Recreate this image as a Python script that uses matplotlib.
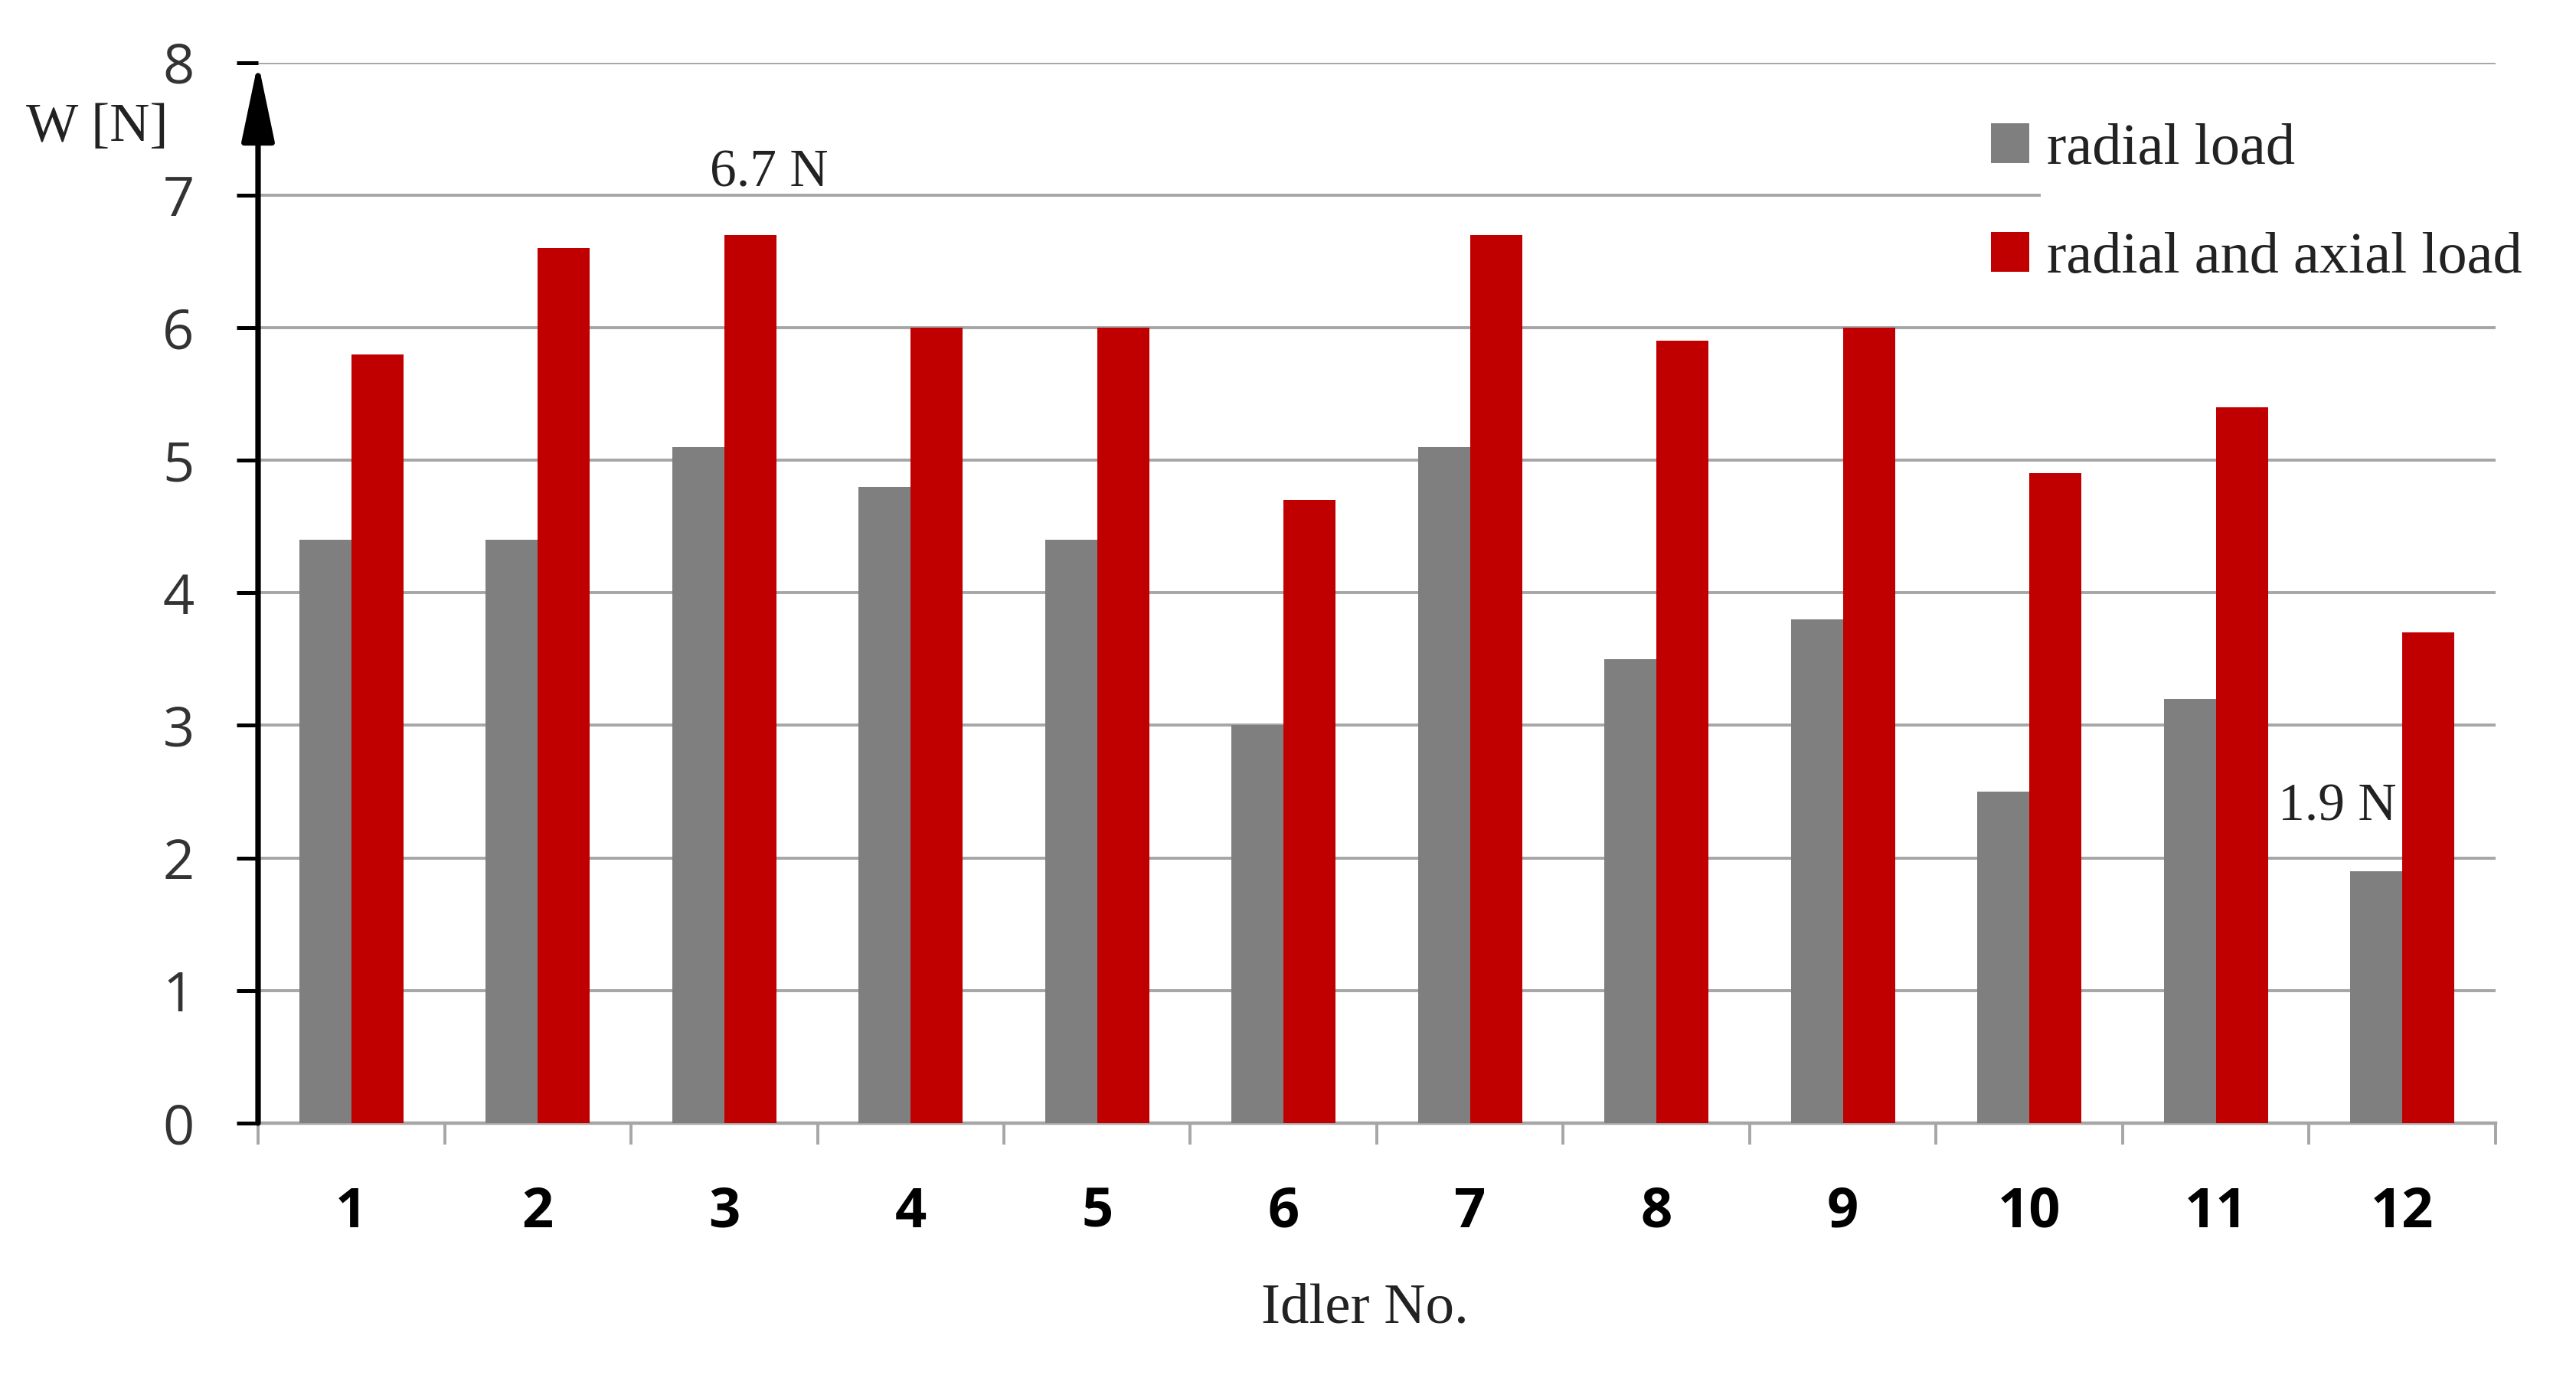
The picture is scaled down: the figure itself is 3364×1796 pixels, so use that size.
import matplotlib
matplotlib.use("Agg")
import matplotlib.pyplot as plt
from matplotlib.patches import Rectangle
import numpy as np

idlers = ["1", "2", "3", "4", "5", "6", "7", "8", "9", "10", "11", "12"]
radial = [4.4, 4.4, 5.1, 4.8, 4.4, 3.0, 5.1, 3.5, 3.8, 2.5, 3.2, 1.9]
radial_axial = [5.8, 6.6, 6.7, 6.0, 6.0, 4.7, 6.7, 5.9, 6.0, 4.9, 5.4, 3.7]
yticks = [0, 1, 2, 3, 4, 5, 6, 7, 8]

W, H, DPI = 3364, 1796, 200
fig = plt.figure(figsize=(W / DPI, H / DPI), dpi=DPI)
ax = fig.add_axes([337 / W, 1 - 1467 / H, (3259 - 337) / W, (1467 - 81.5) / H])

serif = ["Liberation Serif", "DejaVu Serif"]
sans = ["Open Sans", "DejaVu Sans"]

x = np.arange(len(idlers))
bw = 0.28
ax.bar(x - bw / 2, radial, width=bw, color="#7F7F7F", label="radial load", zorder=3)
ax.bar(x + bw / 2, radial_axial, width=bw, color="#C00000", label="radial and axial load", zorder=3)

ax.set_xlim(-0.5, len(idlers) - 0.5)
ax.set_ylim(0, 8)

# grid
ax.set_axisbelow(True)
ax.yaxis.grid(True, color="#A6A6A6", lw=1.4, zorder=0)
# mask gridline behind legend
ax.add_patch(Rectangle(((2665 - 337) / (3259 - 337), 6.6 / 8), 1.0, 0.8 / 8,
                       transform=ax.transAxes, facecolor="white", edgecolor="none",
                       zorder=1, clip_on=False))

# y axis
ax.set_yticks(yticks)
ax.set_yticklabels([str(v) for v in yticks], fontfamily=sans, fontsize=26, color="#333333")
ax.tick_params(axis="y", direction="out", length=10, width=1.8, color="black", pad=20)

# x axis
ax.set_xticks(x)
ax.set_xticklabels(idlers, fontfamily=sans, fontsize=26, fontweight="bold", color="black")
ax.set_xticks(np.arange(-0.5, len(idlers)), minor=True)
ax.tick_params(axis="x", which="major", length=0, pad=29)
ax.tick_params(axis="x", which="minor", length=10, width=1.4, color="#A6A6A6", direction="out")

for s in ["top", "right", "left"]:
    ax.spines[s].set_visible(False)
ax.spines["bottom"].set_color("#A6A6A6")
ax.spines["bottom"].set_linewidth(1.6)

# arrow y axis
ax.annotate("", xy=(0, 1.0), xytext=(0, 0), xycoords="axes fraction",
            textcoords="axes fraction",
            arrowprops=dict(arrowstyle="-|>,head_length=1.05,head_width=0.22",
                            mutation_scale=30, lw=2.6, color="black",
                            shrinkA=0, shrinkB=0), zorder=5)

# annotations
ax.text(2.24, 7.16, "6.7 N", ha="center", va="center", fontfamily=serif, fontsize=25, color="#222222")
ax.text(10.65, 2.38, "1.9 N", ha="center", va="center", fontfamily=serif, fontsize=25, color="#222222")

fig.text(127 / W, 1 - 167 / H, "W [N]", ha="center", va="center", fontfamily=serif, fontsize=26, color="#222222")
fig.text(1782 / W, 1 - 1710 / H, "Idler No.", ha="center", va="center", fontfamily=serif, fontsize=27, color="#222222")

leg = ax.legend(loc="upper left", bbox_to_anchor=(2600 / W, 1 - 161 / H),
                bbox_transform=fig.transFigure, frameon=False,
                prop={"family": serif, "size": 27.5},
                handlelength=0.66, handleheight=0.66, handletextpad=0.3,
                labelspacing=0.95, borderpad=0, borderaxespad=0)
for t in leg.get_texts():
    t.set_color("#222222")

fig.savefig("out.png", dpi=DPI, facecolor="white")
